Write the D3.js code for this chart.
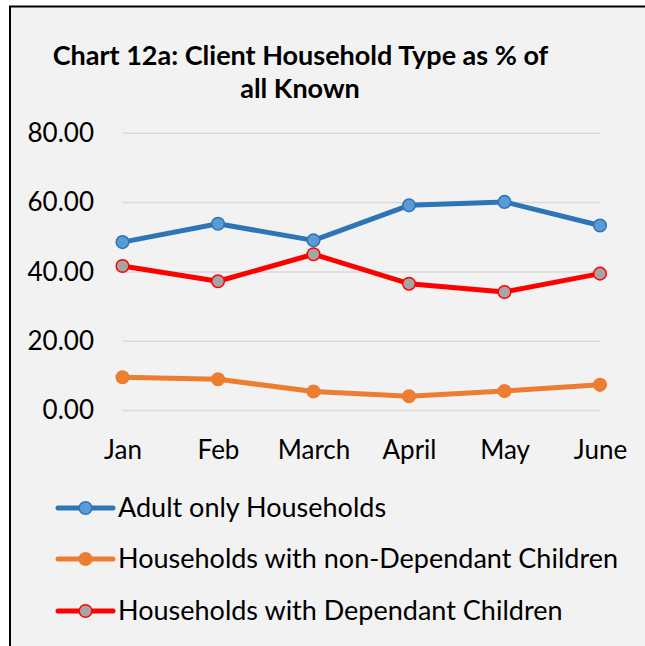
<!DOCTYPE html>
<html><head><meta charset="utf-8">
<script src="https://cdn.jsdelivr.net/npm/d3@7"></script>
<style>html,body{margin:0;padding:0;background:#fff;}svg{display:block;}</style>
</head><body>
<script>
const categories = ["Jan","Feb","March","April","May","June"];
const adultOnly = [48.6, 53.9, 49.1, 59.2, 60.2, 53.4];
const nonDependant = [9.6, 9.0, 5.5, 4.1, 5.6, 7.4];
const dependant = [41.7, 37.3, 45.1, 36.6, 34.2, 39.5];
const yTicks = [0, 20, 40, 60, 80];
const seriesNames = ["Adult only Households","Households with non-Dependant Children","Households with Dependant Children"];

const W = 645, H = 646;
const svg = d3.select("body").append("svg").attr("width", W).attr("height", H);
const font = "Lato, 'Open Sans', sans-serif";

svg.append("rect").attr("x", 10).attr("y", 6.5).attr("width", 700).attr("height", 700)
  .attr("fill", "#f2f2f2").attr("stroke", "#000").attr("stroke-width", 2);

const title = svg.append("text").attr("text-anchor", "middle").attr("font-family", font)
  .attr("font-weight", "bold").attr("font-size", 27).attr("fill", "#000");
title.append("tspan").attr("x", 300.5).attr("y", 65).text("Chart 12a: Client Household Type as % of");
title.append("tspan").attr("x", 300).attr("y", 98).text("all Known");

const x = d3.scalePoint().domain(categories).range([122.5, 600]);
const y = d3.scaleLinear().domain([0, 80]).range([410.5, 133.3]);

const grid = svg.append("g");
grid.selectAll("line").data(yTicks).join("line")
  .attr("x1", 122.5).attr("x2", 600).attr("y1", d => y(d)).attr("y2", d => y(d))
  .attr("stroke", "#d9d9d9").attr("stroke-width", 1.5);

const yAxis = svg.append("g").attr("transform", "translate(94,0)")
  .call(d3.axisLeft(y).tickValues(yTicks).tickFormat(d3.format(".2f")).tickSize(0).tickPadding(0));
yAxis.select(".domain").remove();
yAxis.selectAll("text").attr("font-family", font).attr("font-size", 26).attr("fill", "#000");

const xAxis = svg.append("g").attr("transform", "translate(0,458.5)")
  .call(d3.axisBottom(x).tickSize(0).tickPadding(0));
xAxis.select(".domain").remove();
xAxis.selectAll("text").attr("font-family", font).attr("font-size", 26).attr("fill", "#000").attr("dy", "0");

const series = [
  {name: seriesNames[0], values: adultOnly, line: "#2e75b6", fill: "#5b9bd5", stroke: "#2e75b6"},
  {name: seriesNames[1], values: nonDependant, line: "#ed7d31", fill: "#ed7d31", stroke: "#ed7d31"},
  {name: seriesNames[2], values: dependant, line: "#ff0000", fill: "#a5a5a5", stroke: "#ff0000"}
];
const lineGen = d3.line().x((d, i) => x(categories[i])).y(d => y(d));
series.forEach(s => {
  svg.append("path").datum(s.values).attr("d", lineGen).attr("fill", "none")
    .attr("stroke", s.line).attr("stroke-width", 5).attr("stroke-linejoin", "round").attr("stroke-linecap", "round");
  svg.append("g").selectAll("circle").data(s.values).join("circle")
    .attr("cx", (d, i) => x(categories[i])).attr("cy", d => y(d)).attr("r", 6.3)
    .attr("fill", s.fill).attr("stroke", s.stroke).attr("stroke-width", 1.5);
});

const legend = svg.append("g");
const rowY = [508, 559, 611];
series.forEach((s, i) => {
  const g = legend.append("g").attr("transform", `translate(0,${rowY[i]})`);
  g.append("line").attr("x1", 58).attr("x2", 113).attr("y1", 0).attr("y2", 0)
    .attr("stroke", s.line).attr("stroke-width", 5).attr("stroke-linecap", "round");
  g.append("circle").attr("cx", 85.5).attr("cy", 0).attr("r", 6.3)
    .attr("fill", s.fill).attr("stroke", s.stroke).attr("stroke-width", 1.5);
  g.append("text").attr("x", 118).attr("y", 9).attr("font-family", font)
    .attr("font-size", 27).attr("fill", "#000").text(s.name);
});
</script>
</body></html>
